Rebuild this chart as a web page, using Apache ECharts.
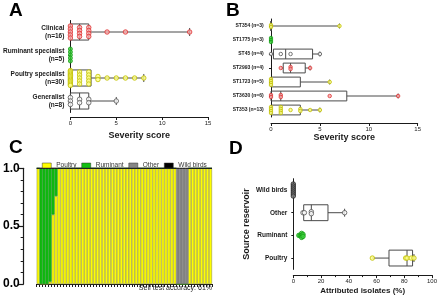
<!DOCTYPE html>
<html>
<head>
<meta charset="utf-8">
<script src="https://cdn.jsdelivr.net/npm/echarts@6/dist/echarts.min.js"></script>
<style>
  html, body { margin: 0; padding: 0; background: #fff; }
  #main { width: 440px; height: 301px; }
</style>
</head>
<body>
<div id="main"></div>
<script>
// ---- panel A: severity by host category ----
var catsA = ['Clinical\n(n=16)', 'Ruminant specialist\n(n=5)', 'Poultry specialist\n(n=30)', 'Generalist\n(n=8)'];
var clinical = [0, 0, 0, 0, 0, 1, 1, 1, 1, 2, 2, 2, 2, 4, 6, 13];
var ruminantSpec = [0, 0, 0, 0, 0];
var poultrySpec = [0, 0, 0, 0, 0, 0, 0, 0, 0, 0, 0, 0, 0, 1, 1, 1, 1, 1, 2, 2, 2, 2, 2, 3, 3, 4, 5, 6, 7, 8];
var generalist = [0, 0, 0, 1, 1, 2, 2, 5];
// [min, q1, median, q3, max], null = no box drawn
var boxesA = [[0, 0, 1, 2, 13], null, [0, 0, 1, 2.25, 8], [0, 0, 1, 2, 5]];

// ---- panel B: severity by ST ----
var catsB = ['ST354 (n=3)', 'ST1775 (n=3)', 'ST45 (n=4)', 'ST2993 (n=4)', 'ST1723 (n=5)', 'ST3630 (n=6)', 'ST353 (n=13)'];
var ptsB = [
  [0, 0, 7],
  [0, 0, 0],
  [0, 1, 2, 5],
  [1, 2, 2, 4],
  [0, 0, 0, 0, 6],
  [0, 0, 1, 1, 6, 13],
  [0, 0, 0, 0, 1, 1, 1, 1, 2, 3, 3, 4, 5]
];
var colB = ['yellow', 'green', 'grey', 'red', 'yellow', 'red', 'yellow'];
var boxesB = [[0, 0, 0, 0, 7], null, [0, 0.25, 1.5, 4.25, 5], [1, 1.25, 2, 3.5, 4], [0, 0, 0, 3, 6], [0, 0, 1, 7.75, 13], [0, 0, 1, 3, 5]];

// ---- panel C: per-isolate attribution (59 isolates) ----
var isolates = [];
for (var i = 1; i <= 59; i++) isolates.push(String(i));
var cPoultry = [1, 0, 0, 0, 0.02, 0.6, 0.76,
  1, 1, 1, 1, 1, 1, 1, 1, 1, 1, 1, 1, 1, 1, 1, 1, 1, 1, 1, 1,
  1, 1, 1, 1, 1, 1, 1, 1, 1, 1, 1, 1, 1, 1, 1, 1, 1, 1, 1, 1,
  0, 0, 0, 0,
  1, 1, 1, 1, 1, 1, 1, 1];
var cRuminant = [0, 1, 1, 1, 0.98, 0.4, 0.24,
  0, 0, 0, 0, 0, 0, 0, 0, 0, 0, 0, 0, 0, 0, 0, 0, 0, 0, 0, 0,
  0, 0, 0, 0, 0, 0, 0, 0, 0, 0, 0, 0, 0, 0, 0, 0, 0, 0, 0, 0,
  0, 0, 0, 0,
  0, 0, 0, 0, 0, 0, 0, 0];
var cOther = [0, 0, 0, 0, 0, 0, 0,
  0, 0, 0, 0, 0, 0, 0, 0, 0, 0, 0, 0, 0, 0, 0, 0, 0, 0, 0, 0,
  0, 0, 0, 0, 0, 0, 0, 0, 0, 0, 0, 0, 0, 0, 0, 0, 0, 0, 0, 0,
  1, 1, 1, 1,
  0, 0, 0, 0, 0, 0, 0, 0];
var cWild = [0, 0, 0, 0, 0, 0, 0,
  0, 0, 0, 0, 0, 0, 0, 0, 0, 0, 0, 0, 0, 0, 0, 0, 0, 0, 0, 0,
  0, 0, 0, 0, 0, 0, 0, 0, 0, 0, 0, 0, 0, 0, 0, 0, 0, 0, 0, 0,
  0, 0, 0, 0,
  0, 0, 0, 0, 0, 0, 0, 0];

// ---- panel D: attributed isolates by reservoir ----
var catsD = ['Wild birds', 'Other', 'Ruminant', 'Poultry'];
var ptsD = [
  [0, 0, 0, 0, 0, 0, 0],
  [7, 8, 13, 13, 37],
  [4, 5, 6, 6, 6, 7, 7],
  [57, 81, 82, 85, 87]
];
var colD = ['black', 'grey', 'green', 'yellow'];
var boxesD = [null, [7, 7.5, 13, 25, 37], null, [57, 69, 82, 86, 87]];

var pal = {
  red: { fill: '#f6aaaa', line: '#e03535' },
  yellow: { fill: '#ffff8a', line: '#bfbf00' },
  grey: { fill: '#ffffff', line: '#555555' },
  green: { fill: '#3ccf3c', line: '#16a016' },
  black: { fill: '#777777', line: '#222222' }
};

var FONT = '"Liberation Sans", Arial, sans-serif';
var INK = '#1a1a1a';

var myChart = echarts.init(document.getElementById('main'), null, { renderer: 'canvas' });

// stack duplicate values vertically like a column scatter
function swarm(values, cat, step, span) {
  var counts = {}, seen = {};
  values.forEach(function (v) { counts[v] = (counts[v] || 0) + 1; });
  return values.map(function (v) {
    var n = counts[v];
    var k = seen[v] = (seen[v] === undefined ? 0 : seen[v] + 1);
    var s = n > 1 ? Math.min(step, span / (n - 1)) : 0;
    return { value: [v, cat], symbolOffset: [0, (k - (n - 1) / 2) * s] };
  });
}

function pointSeries(values, cat, colour, axis, size, step, span) {
  var c = pal[colour];
  return {
    type: 'scatter', xAxisIndex: axis, yAxisIndex: axis, z: 5,
    symbol: 'circle', symbolSize: size,
    itemStyle: { color: c.fill, borderColor: c.line, borderWidth: 1 },
    data: swarm(values, cat, step, span)
  };
}

function renderBox(params, api) {
  var cat = api.value(0);
  var lo = api.coord([api.value(1), cat]);
  var q1 = api.coord([api.value(2), cat]);
  var md = api.coord([api.value(3), cat]);
  var q3 = api.coord([api.value(4), cat]);
  var hi = api.coord([api.value(5), cat]);
  var h = api.size([0, 1])[1] * 0.7;
  var y = lo[1];
  var cap = Math.max(2, h * 0.25);
  var st = { stroke: '#4a4a4a', lineWidth: 1 };
  return {
    type: 'group',
    children: [
      { type: 'line', shape: { x1: lo[0], y1: y, x2: q1[0], y2: y }, style: st },
      { type: 'line', shape: { x1: q3[0], y1: y, x2: hi[0], y2: y }, style: st },
      { type: 'line', shape: { x1: hi[0], y1: y - cap, x2: hi[0], y2: y + cap }, style: st },
      { type: 'rect', shape: { x: q1[0], y: y - h / 2, width: q3[0] - q1[0], height: h },
        style: { stroke: '#4a4a4a', fill: 'transparent', lineWidth: 1 } },
      { type: 'line', shape: { x1: md[0], y1: y - h / 2, x2: md[0], y2: y + h / 2 }, style: st }
    ]
  };
}

function boxSeries(boxes, axis) {
  var rows = [];
  boxes.forEach(function (b, i) { if (b) rows.push([i].concat(b)); });
  return {
    type: 'custom', xAxisIndex: axis, yAxisIndex: axis, z: 2,
    renderItem: renderBox,
    encode: { x: [1, 2, 3, 4, 5], y: 0 },
    data: rows
  };
}

function valueAxis(grid, max, interval, offset, name, nameGap, labelSize, nameSize) {
  return {
    gridIndex: grid, type: 'value', min: 0, max: max, interval: interval, offset: offset,
    axisLine: { show: true, lineStyle: { color: INK, width: 1 } },
    axisTick: { show: true, length: 3, lineStyle: { color: INK } },
    splitLine: { show: false },
    axisLabel: { fontSize: labelSize, color: INK, margin: 3, fontFamily: FONT },
    name: name, nameLocation: 'middle', nameGap: nameGap,
    nameTextStyle: { fontSize: nameSize, fontWeight: 'bold', color: INK, fontFamily: FONT }
  };
}

function catAxis(grid, cats, offset, fontSize, lineHeight) {
  return {
    gridIndex: grid, type: 'category', data: cats, inverse: true, offset: offset,
    axisLine: { show: true, lineStyle: { color: INK, width: 1 } },
    axisTick: { show: true, alignWithLabel: true, length: 2, lineStyle: { color: INK } },
    splitLine: { show: false },
    axisLabel: { fontSize: fontSize, fontWeight: 'bold', color: INK, margin: 2,
      lineHeight: lineHeight, align: 'right', fontFamily: FONT, interval: 0 }
  };
}

var dAxisX = valueAxis(3, 100, 20, 5.7, 'Attributed isolates (%)', 12, 6, 8);
dAxisX.minorTick = { show: true, splitNumber: 2, length: 2, lineStyle: { color: INK } };

var dAxisY = catAxis(3, catsD, 4, 6.5, 8);
dAxisY.name = 'Source reservoir';
dAxisY.nameLocation = 'middle';
dAxisY.nameGap = 38;
dAxisY.nameTextStyle = { fontSize: 9, fontWeight: 'bold', color: INK, fontFamily: FONT };

var barStyle = function (col, border) {
  return { color: col, borderColor: border, borderWidth: 0.6 };
};

var series = [boxSeries(boxesA, 0), boxSeries(boxesB, 1), boxSeries(boxesD, 3)];
series.push(pointSeries(clinical, 0, 'red', 0, 4.5, 3, 14));
series.push(pointSeries(ruminantSpec, 1, 'green', 0, 4, 3, 12));
series.push(pointSeries(poultrySpec, 2, 'yellow', 0, 4.5, 3, 15));
series.push(pointSeries(generalist, 3, 'grey', 0, 4.5, 3.5, 12));
ptsB.forEach(function (p, i) { series.push(pointSeries(p, i, colB[i], 1, 3.5, 2, 7)); });
ptsD.forEach(function (p, i) { series.push(pointSeries(p, i, colD[i], 3, 4.5, 2, 12)); });

series.push({ name: 'Poultry', type: 'bar', stack: 'c', xAxisIndex: 2, yAxisIndex: 2, barCategoryGap: '0%',
  itemStyle: barStyle('#ffff00', '#9a9a40'), data: cPoultry });
series.push({ name: 'Ruminant', type: 'bar', stack: 'c', xAxisIndex: 2, yAxisIndex: 2, barCategoryGap: '0%',
  itemStyle: barStyle('#12c012', '#0e8e0e'), data: cRuminant });
series.push({ name: 'Other', type: 'bar', stack: 'c', xAxisIndex: 2, yAxisIndex: 2, barCategoryGap: '0%',
  itemStyle: barStyle('#868686', '#707070'), data: cOther });
series.push({ name: 'Wild birds', type: 'bar', stack: 'c', xAxisIndex: 2, yAxisIndex: 2, barCategoryGap: '0%',
  itemStyle: barStyle('#000000', '#000000'), data: cWild });

var option = {
  animation: false,
  backgroundColor: '#ffffff',
  textStyle: { fontFamily: FONT },
  grid: [
    { left: 68, top: 20.5, width: 140, height: 92 },
    { left: 271, top: 19, width: 146.7, height: 98 },
    { left: 34, top: 168.3, width: 178, height: 115.7 },
    { left: 293.3, top: 178.7, width: 140, height: 90.7 }
  ],
  xAxis: [
    valueAxis(0, 15, 5, 4.5, 'Severity score', 14, 6, 9),
    valueAxis(1, 15, 5, 6, 'Severity score', 6, 6, 9),
    {
      gridIndex: 2, type: 'category', data: isolates, offset: 13,
      axisLine: { show: true, lineStyle: { color: INK, width: 1 } },
      axisTick: { show: true, interval: 0, length: 3, lineStyle: { color: INK } },
      axisLabel: { show: false }, splitLine: { show: false }
    },
    dAxisX
  ],
  yAxis: [
    catAxis(0, catsA, 4, 6.5, 8),
    catAxis(1, catsB, 5.3, 5, 6),
    {
      gridIndex: 2, type: 'value', min: 0, max: 1, interval: 0.5, offset: 13,
      axisLine: { show: true, lineStyle: { color: INK, width: 1.2 } },
      axisTick: { show: true, length: 6, lineStyle: { color: INK, width: 1.2 } },
      minorTick: { show: true, splitNumber: 5, length: 3, lineStyle: { color: INK } },
      splitLine: { show: false }, minorSplitLine: { show: false },
      axisLabel: { fontSize: 12, fontWeight: 'bold', color: '#000', margin: 4, fontFamily: FONT,
        formatter: function (v) { return v.toFixed(1); } }
    },
    dAxisY
  ],
  legend: {
    data: ['Poultry', 'Ruminant', 'Other', 'Wild birds'],
    left: 37, top: 157, icon: 'rect', itemWidth: 9, itemHeight: 5, itemGap: 5,
    itemStyle: { borderColor: '#333', borderWidth: 0.5 },
    textStyle: { fontSize: 6.5, color: '#333', fontFamily: FONT }
  },
  graphic: [
    { type: 'text', left: 9, top: 1, style: { text: 'A', font: 'bold 19px ' + FONT, fill: '#000' } },
    { type: 'text', left: 226, top: 1, style: { text: 'B', font: 'bold 19px ' + FONT, fill: '#000' } },
    { type: 'text', left: 9, top: 138, style: { text: 'C', font: 'bold 19px ' + FONT, fill: '#000' } },
    { type: 'text', left: 229, top: 139, style: { text: 'D', font: 'bold 19px ' + FONT, fill: '#000' } },
    { type: 'text', right: 228, top: 285, z: 10,
      style: { text: 'Self test accuracy: 61%', font: '7px ' + FONT, fill: '#222' } }
  ],
  series: series
};

myChart.setOption(option);
</script>
</body>
</html>
